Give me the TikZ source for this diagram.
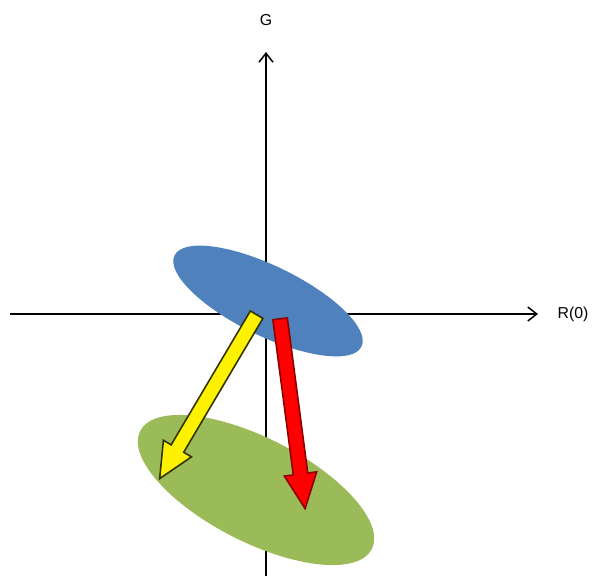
\documentclass[tikz,border=0pt]{standalone}
\usepackage{fontspec}
\setmainfont{Liberation Sans}
\usetikzlibrary{arrows.meta,shapes.geometric,shapes.arrows}
\definecolor{before}{RGB}{79,129,189}
\definecolor{after}{RGB}{155,187,89}
\definecolor{redline}{RGB}{140,0,0}
\definecolor{yellowline}{RGB}{50,50,0}

\begin{document}
\begin{tikzpicture}[
    x=0.02cm, y=-0.02cm,
    axis/.style={-{Straight Barb[length=1.8mm,width=2.8mm]}, line width=0.85pt},
    blob/.style={ellipse, inner sep=0pt},
    shiftarrow/.style={single arrow, anchor=tail, inner xsep=0pt, inner ysep=0.13cm, text height=0pt, text depth=0pt,
        single arrow head extend=0.18cm, single arrow tip angle=50, line width=0.9pt},
    label/.style={font=\fontsize{9}{11}\selectfont}
]
\useasboundingbox (0,0) rectangle (602,576);

% Axes
\coordinate (xstart) at (10,314);
\coordinate (xend) at (538,314);
\coordinate (ystart) at (266,576);
\coordinate (yend) at (266,52);
\draw[axis] (xstart) -- (xend);
\draw[axis] (ystart) -- (yend);
\node[label] (glabel) at (266,20) {G};
\node[label] (rlabel) at (573,314) {R(0)};

% Clusters
\node[blob, fill=before, minimum width=208*0.02cm, minimum height=70*0.02cm, rotate=-26] (start) at (268,301) {};
\node[blob, fill=after, minimum width=260*0.02cm, minimum height=104*0.02cm, rotate=-27] (target) at (256,490) {};

% Shift arrows
\coordinate (ytail) at (257,314);
\coordinate (rtail) at (280,318);
\node[shiftarrow, fill=yellow, draw=yellowline, minimum height=3.81cm, rotate=239.4] (yshift) at (ytail) {};
\node[shiftarrow, fill=red, draw=redline, minimum height=3.83cm, rotate=277.5] (rshift) at (rtail) {};

\end{tikzpicture}
\end{document}
